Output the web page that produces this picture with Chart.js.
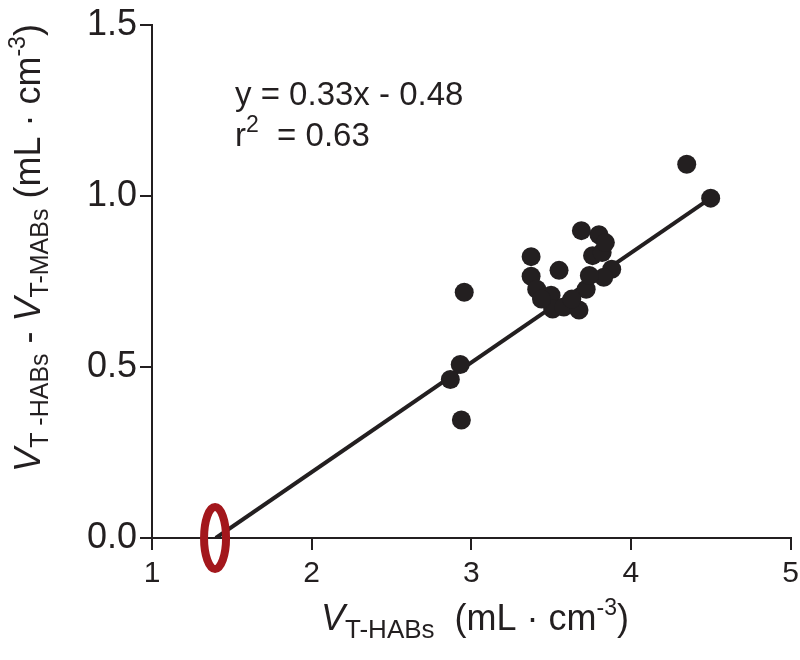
<!DOCTYPE html>
<html>
<head>
<meta charset="utf-8">
<script src="https://cdn.jsdelivr.net/npm/chart.js@4"></script>
<style>
  body { margin: 0; background: #fff; }
  #wrap { width: 800px; height: 660px; }
</style>
</head>
<body>
<div id="wrap"><canvas id="chart" width="800" height="660"></canvas></div>
<script>
// measured points: V T-HABs (x) vs V T-HABs - V T-MABs (y)
const xValues = [4.35, 4.50, 3.375, 3.375, 2.956, 2.931, 2.869, 2.938,
                 3.55, 3.69, 3.80, 3.88, 3.83, 3.41, 3.50, 3.51, 3.58,
                 3.675, 3.72, 3.74, 3.76, 3.82, 3.84, 3.44, 3.63];
const yValues = [1.092, 0.993, 0.822, 0.765, 0.718, 0.507, 0.463, 0.345,
                 0.782, 0.898, 0.886, 0.785, 0.762, 0.727, 0.709, 0.669, 0.675,
                 0.666, 0.727, 0.767, 0.825, 0.834, 0.863, 0.698, 0.698];
// regression line ends
const fitX = [1.40, 4.50];
const fitY = [0.0, 0.993];
// marked x-intercept
const markX = 1.395;
const markY = 0;

const xTicks = [1, 2, 3, 4, 5];
const yTicks = [0, 0.5, 1.0, 1.5];

const FONT = "'Liberation Sans', Arial, sans-serif";

function drawRich(ctx, x, y, pieces) {
    // pieces: [text, size, italic, baselineShift]
    let total = 0;
    pieces.forEach(p => {
        ctx.font = (p[2] ? 'italic ' : '') + p[1] + 'px ' + FONT;
        total += ctx.measureText(p[0]).width;
    });
    let cx = x - total / 2;
    pieces.forEach(p => {
        ctx.font = (p[2] ? 'italic ' : '') + p[1] + 'px ' + FONT;
        ctx.fillText(p[0], cx, y + (p[3] || 0));
        cx += ctx.measureText(p[0]).width;
    });
}

function drawLeft(ctx, x, y, pieces) {
    let cx = x;
    pieces.forEach(p => {
        ctx.font = (p[2] ? 'italic ' : '') + p[1] + 'px ' + FONT;
        ctx.fillText(p[0], cx, y + (p[3] || 0));
        cx += ctx.measureText(p[0]).width;
    });
}

const extras = {
    id: 'extras',
    afterDraw(chart) {
        const ctx = chart.ctx;
        const xs = chart.scales.x, ys = chart.scales.y;
        ctx.save();
        ctx.fillStyle = '#231f20';
        ctx.textBaseline = 'alphabetic';

        // x axis title
        drawRich(ctx, 475, 630, [
            ['V', 36, true], ['T-HABs', 26, false, 8], ['  (mL · cm', 36, false],
            ['-3', 23, false, -15], [')', 36, false]
        ]);

        // y axis title (rotated)
        ctx.save();
        ctx.translate(40, 248);
        ctx.rotate(-Math.PI / 2);
        drawRich(ctx, 0, 0, [
            ['V', 36, true], ['T -HABs', 25, false, 8], [' - ', 36, false],
            ['V', 36, true], ['T-MABs', 25, false, 8], [' (mL · cm', 36, false],
            ['-3', 23, false, -15], [')', 36, false]
        ]);
        ctx.restore();

        // equation
        drawLeft(ctx, 235, 105, [['y = 0.33x - 0.48', 33, false]]);
        drawLeft(ctx, 235, 146, [['r', 33, false], ['2', 23, false, -14], ['  = 0.63', 33, false]]);

        // red ellipse at the x-intercept
        const ex = xs.getPixelForValue(markX), ey = ys.getPixelForValue(markY);
        ctx.strokeStyle = '#a3171c';
        ctx.lineWidth = 8;
        ctx.beginPath();
        ctx.ellipse(ex, ey, 11, 31, 0, 0, Math.PI * 2);
        ctx.stroke();
        ctx.restore();
    }
};

new Chart(document.getElementById('chart'), {
    type: 'scatter',
    data: {
        datasets: [
            {
                label: 'data',
                data: xValues.map((x, i) => ({ x: x, y: yValues[i] })),
                backgroundColor: '#231f20',
                borderWidth: 0,
                pointRadius: 9.5,
                order: 1
            },
            {
                label: 'fit',
                data: fitX.map((x, i) => ({ x: x, y: fitY[i] })),
                showLine: true,
                borderColor: '#231f20',
                borderWidth: 4,
                pointRadius: 0,
                order: 2
            }
        ]
    },
    options: {
        responsive: false,
        animation: false,
        layout: { padding: { top: 20, right: 0, left: 0, bottom: 0 } },
        plugins: { legend: { display: false }, tooltip: { enabled: false } },
        scales: {
            x: {
                type: 'linear',
                min: 1, max: 5,
                afterFit: s => { s.height = 122; s.paddingRight = 8; },
                afterBuildTicks: s => { s.ticks = xTicks.map(v => ({ value: v })); },
                border: { display: true, color: '#231f20', width: 2 },
                grid: { drawOnChartArea: false, tickLength: 12, color: '#231f20', lineWidth: 2 },
                ticks: { color: '#231f20', font: { family: FONT, size: 30 }, padding: 6 }
            },
            y: {
                type: 'linear',
                min: 0, max: 1.5,
                afterFit: s => { s.width = 152; },
                afterBuildTicks: s => { s.ticks = yTicks.map(v => ({ value: v })); },
                border: { display: true, color: '#231f20', width: 2 },
                grid: { drawOnChartArea: false, tickLength: 12, color: '#231f20', lineWidth: 2 },
                ticks: {
                    color: '#231f20', font: { family: FONT, size: 36 }, padding: 3,
                    callback: v => v.toFixed(1)
                }
            }
        }
    },
    plugins: [extras]
});
</script>
</body>
</html>
